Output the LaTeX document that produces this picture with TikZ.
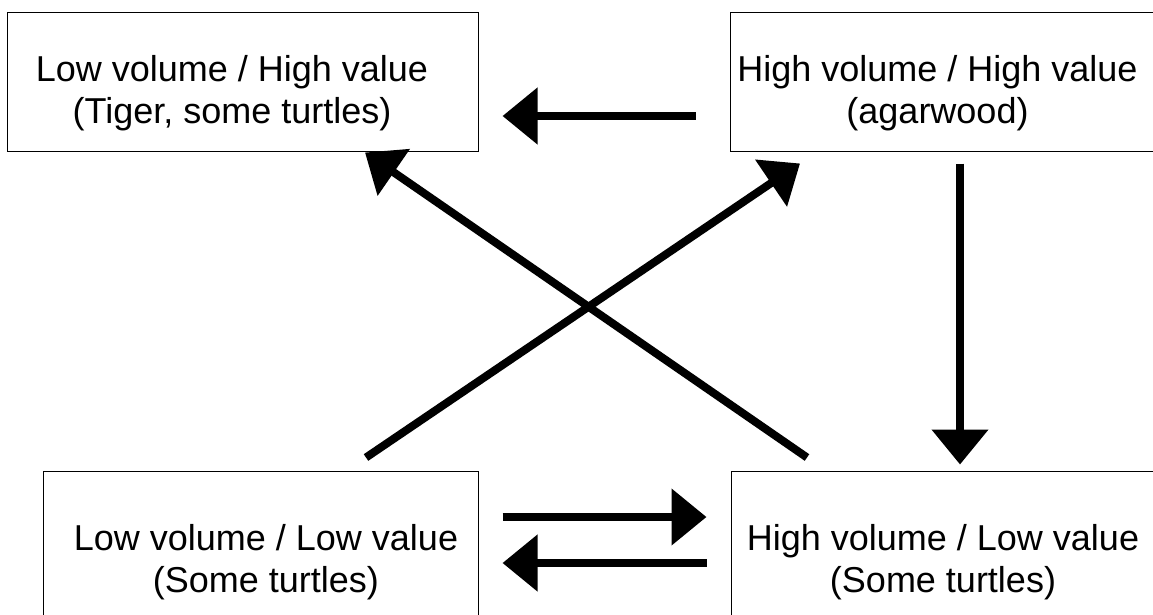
\documentclass[tikz,border=0pt]{standalone}
\usepackage{fontspec}
\setmainfont{Liberation Sans}
\usepackage{tikz}
\usetikzlibrary{arrows.meta, positioning, calc}

\begin{document}
\begin{tikzpicture}[
    x=1pt, y=-1pt,
    box/.style={rectangle, draw, line width=1pt, inner sep=0pt},
    boxtext/.style={align=center, inner sep=0pt, font=\fontsize{36}{41.5}\selectfont},
    flow/.style={line width=8pt, -{Triangle[length=35pt, width=55pt]}},
    >=Stealth
]
\useasboundingbox (0,0) rectangle (1153,614);
\clip (0,0) rectangle (1153,614);

\node[box, minimum width=471pt, minimum height=139pt] (lowhigh) at (242.5,81.5) {};
\node[box, minimum width=440pt, minimum height=139pt] (highhigh) at (950,81.5) {};
\node[box, minimum width=435pt, minimum height=169pt] (lowlow) at (260.5,555.5) {};
\node[box, minimum width=439pt, minimum height=169pt] (highlow) at (950.5,555.5) {};

\node[boxtext] (lowhightext) at (232,93) {Low volume / High value\\(Tiger, some turtles)};
\node[boxtext] (highhightext) at (937.5,93) {High volume / High value\\(agarwood)};
\node[boxtext] (lowlowtext) at (266,562) {Low volume / Low value\\(Some turtles)};
\node[boxtext] (highlowtext) at (943,562) {High volume / Low value\\(Some turtles)};

\draw[flow, shorten <=34pt, shorten >=24pt] ([yshift=-34.5pt]highhigh.west) -- ([yshift=-34.5pt]lowhigh.east);
\draw[flow, shorten <=12pt, shorten >=6pt] ([xshift=10pt]highhigh.south) -- ([xshift=9.5pt]highlow.north);
\draw[flow, shorten <=24pt, shorten >=24pt] ([yshift=38.5pt]lowlow.east) -- ([yshift=38.5pt]highlow.west);
\draw[flow, shorten <=24pt, shorten >=24pt] ([yshift=-7.5pt]highlow.west) -- ([yshift=-7.5pt]lowlow.east);
\draw[flow] ([shift={(105.5,-13)}]lowlow.north) -- ([shift={(-150,12)}]highhigh.south);
\draw[flow] ([shift={(-143.5,-13)}]highlow.north) -- ([shift={(122.5,1)}]lowhigh.south);
\end{tikzpicture}
\end{document}
